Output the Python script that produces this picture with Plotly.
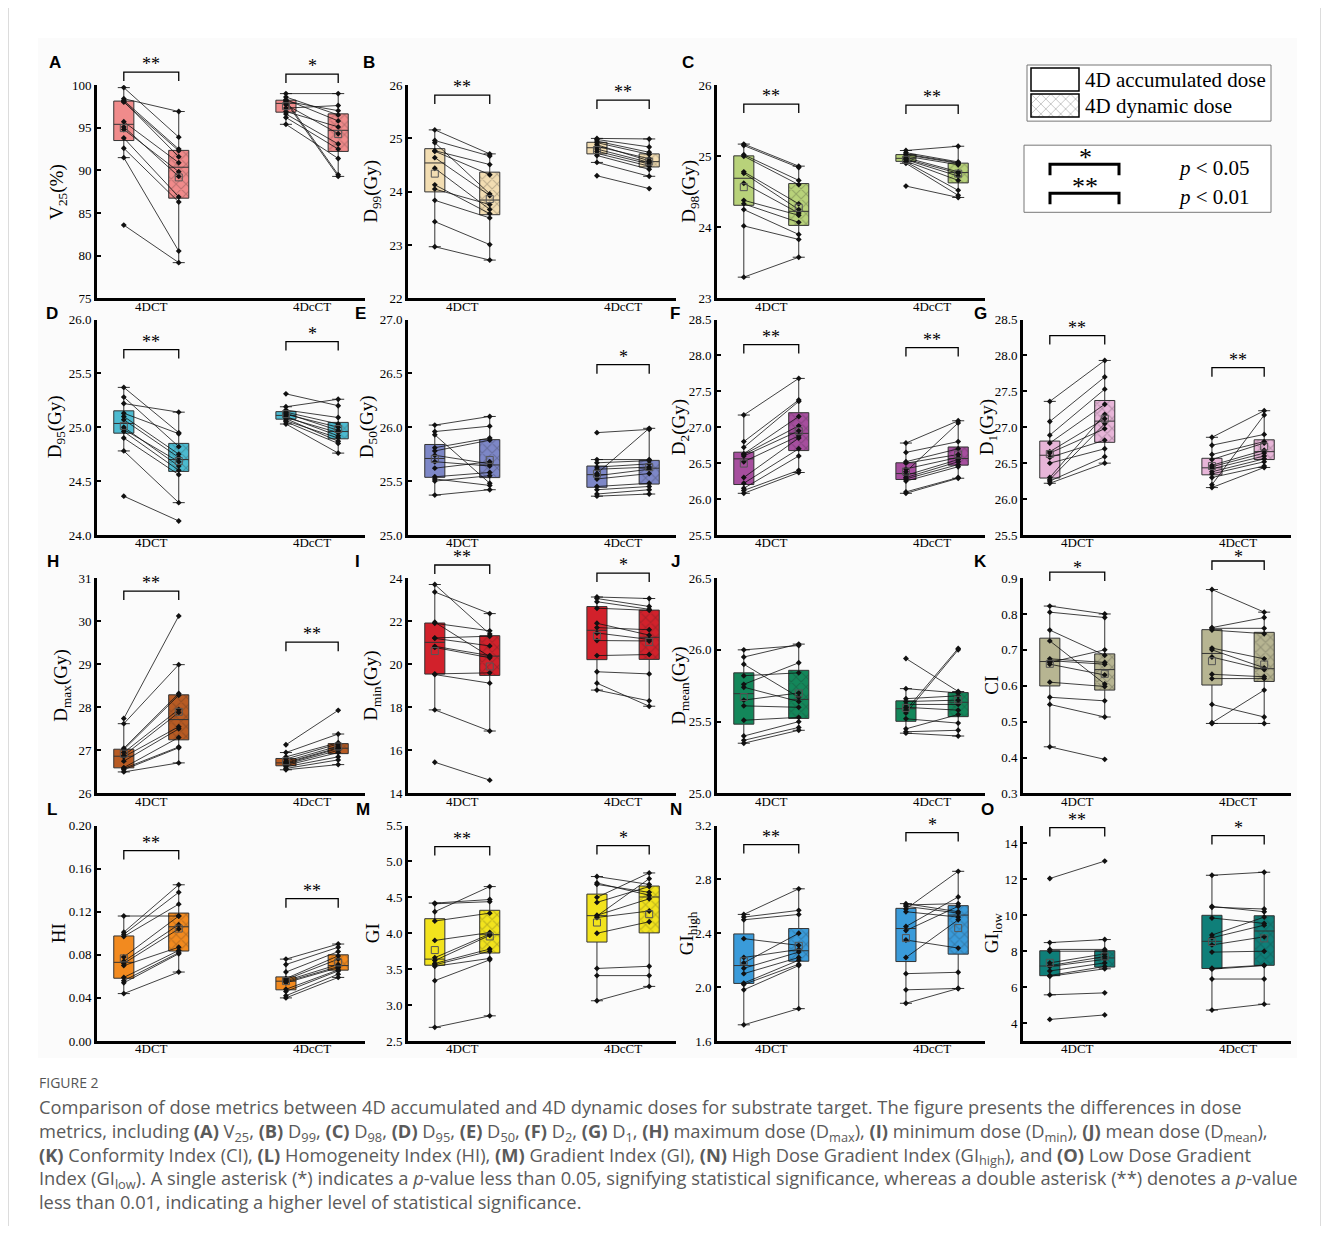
import numpy as np
import plotly.graph_objects as go

W, H = 1329, 1234          # page size
MARGIN = 8                 # default body margin of the html page
FW, FH = W - 2 * MARGIN, H - 2 * MARGIN
SY, OY = 0.9857, 9.2       # observed vertical mapping of the rendered page (compensated below)

# ---------------- data ----------------
CATEGORIES = ["4DCT", "4DcCT"]
PANEL_KEYS = ["A", "B", "C", "D", "E", "F", "G", "H", "I", "J", "K", "L", "M", "N", "O"]
Y_TITLES = ["V<sub>25</sub>(%)", "D<sub>99</sub>(Gy)", "D<sub>98</sub>(Gy)", "D<sub>95</sub>(Gy)",
            "D<sub>50</sub>(Gy)", "D<sub>2</sub>(Gy)", "D<sub>1</sub>(Gy)", "D<sub>max</sub>(Gy)",
            "D<sub>min</sub>(Gy)", "D<sub>mean</sub>(Gy)", "CI", "HI", "GI",
            "GI<sub>high</sub>", "GI<sub>low</sub>"]
SIG_4DCT = ["**", "**", "**", "**", "", "**", "**", "**", "**", "", "*", "**", "**", "**", "**"]
SIG_4DcCT = ["*", "**", "**", "*", "*", "**", "**", "**", "*", "", "*", "**", "*", "*", "*"]

V25_4DCT_acc = [99.7, 98.4, 98.2, 98.1, 98.0, 95.7, 95.1, 94.8, 93.8, 92.6, 91.5, 83.6]
V25_4DCT_dyn = [93.9, 96.9, 92.5, 91.6, 92.3, 90.9, 89.3, 89.85, 86.9, 86.3, 80.55, 79.2]
V25_4DcCT_acc = [99.0, 98.6, 98.3, 98.2, 98.1, 98.0, 97.7, 97.3, 96.9, 96.6, 96.2, 95.4]
V25_4DcCT_dyn = [99.0, 96.5, 95.8, 89.5, 97.0, 89.3, 94.3, 97.6, 95.1, 93.1, 92.5, 91.4]

D99_4DCT_acc = [25.16, 24.96, 24.92, 24.77, 24.76, 24.64, 24.44, 24.13, 24.05, 23.84, 23.44, 22.97]
D99_4DCT_dyn = [24.71, 24.67, 23.96, 24.51, 24.32, 23.93, 23.67, 23.59, 23.76, 23.51, 23.01, 22.72]
D99_4DcCT_acc = [25.0, 24.98, 24.95, 24.92, 24.88, 24.85, 24.80, 24.76, 24.72, 24.68, 24.55, 24.30]
D99_4DcCT_dyn = [24.99, 24.84, 24.74, 24.70, 24.58, 24.62, 24.55, 24.52, 24.48, 24.42, 24.29, 24.06]

D98_4DCT_acc = [25.17, 25.15, 25.02, 25.0, 24.78, 24.76, 24.62, 24.38, 24.33, 24.25, 24.02, 23.30]
D98_4DCT_dyn = [24.86, 24.84, 24.66, 24.60, 24.33, 24.25, 24.20, 24.17, 24.07, 23.90, 23.83, 23.58]
D98_4DcCT_acc = [25.08, 25.05, 25.03, 25.02, 25.0, 24.98, 24.96, 24.95, 24.93, 24.92, 24.90, 24.58]
D98_4DcCT_dyn = [25.14, 24.92, 24.91, 24.90, 24.88, 24.78, 24.76, 24.72, 24.66, 24.52, 24.45, 24.42]

D95_4DCT_acc = [25.37, 25.28, 25.22, 25.13, 25.10, 25.07, 25.0, 24.98, 24.96, 24.90, 24.78, 24.36]
D95_4DCT_dyn = [24.95, 24.82, 25.14, 24.94, 24.75, 24.72, 24.64, 24.68, 24.60, 24.56, 24.30, 24.13]
D95_4DcCT_acc = [25.31, 25.19, 25.16, 25.14, 25.13, 25.12, 25.10, 25.09, 25.08, 25.06, 25.05, 25.03]
D95_4DcCT_dyn = [25.20, 25.26, 25.09, 25.03, 24.97, 25.0, 24.92, 24.95, 24.87, 24.90, 24.85, 24.76]

D50_4DCT_acc = [26.02, 25.96, 25.93, 25.81, 25.78, 25.74, 25.68, 25.62, 25.54, 25.52, 25.50, 25.37]
D50_4DCT_dyn = [26.10, 26.01, 25.48, 25.90, 25.88, 25.66, 25.64, 25.68, 25.58, 25.46, 25.55, 25.42]
D50_4DcCT_acc = [25.95, 25.70, 25.67, 25.63, 25.61, 25.57, 25.55, 25.52, 25.45, 25.42, 25.38, 25.36]
D50_4DcCT_dyn = [25.98, 25.70, 25.69, 25.66, 25.63, 25.99, 25.61, 25.57, 25.48, 25.45, 25.42, 25.38]

D2_4DCT_acc = [27.17, 26.80, 26.72, 26.63, 26.62, 26.60, 26.52, 26.30, 26.22, 26.15, 26.12, 26.08]
D2_4DCT_dyn = [27.68, 27.38, 27.36, 27.15, 27.02, 26.95, 26.88, 26.85, 26.70, 26.60, 26.40, 26.37]
D2_4DcCT_acc = [26.78, 26.65, 26.52, 26.50, 26.42, 26.38, 26.33, 26.30, 26.28, 26.25, 26.10, 26.08]
D2_4DcCT_dyn = [27.09, 26.80, 26.70, 26.62, 26.58, 27.06, 26.55, 26.52, 26.48, 26.45, 26.30, 26.29]

D1_4DCT_acc = [27.36, 27.08, 26.89, 26.78, 26.66, 26.64, 26.58, 26.50, 26.30, 26.27, 26.25, 26.22]
D1_4DCT_dyn = [27.93, 27.70, 27.53, 27.32, 27.12, 26.98, 26.82, 26.70, 27.18, 27.05, 26.59, 26.50]
D1_4DcCT_acc = [26.86, 26.75, 26.62, 26.55, 26.47, 26.45, 26.42, 26.38, 26.35, 26.30, 26.20, 26.16]
D1_4DcCT_dyn = [27.23, 26.90, 26.80, 26.78, 26.68, 26.64, 26.60, 26.56, 26.52, 26.46, 27.17, 26.44]

Dmax_4DCT_acc = [27.74, 27.62, 27.05, 27.02, 26.95, 26.88, 26.85, 26.75, 26.60, 26.58, 26.55, 26.50]
Dmax_4DCT_dyn = [30.12, 28.99, 28.32, 28.28, 27.95, 27.88, 27.55, 27.50, 27.30, 27.08, 27.06, 26.71]
Dmax_4DcCT_acc = [27.13, 26.95, 26.85, 26.80, 26.75, 26.72, 26.70, 26.68, 26.65, 26.62, 26.58, 26.55]
Dmax_4DcCT_dyn = [27.93, 27.38, 27.18, 27.15, 27.10, 27.06, 27.04, 27.00, 26.95, 26.85, 26.78, 26.67]

Dmin_4DCT_acc = [23.70, 23.35, 21.95, 21.90, 21.22, 21.20, 20.83, 20.78, 19.55, 19.52, 17.88, 15.45]
Dmin_4DCT_dyn = [21.40, 22.35, 20.35, 21.55, 21.30, 20.85, 20.40, 20.30, 19.60, 19.12, 16.90, 14.62]
Dmin_4DcCT_acc = [23.12, 23.05, 22.90, 22.60, 21.90, 21.70, 21.45, 21.10, 20.40, 19.65, 19.12, 18.80]
Dmin_4DcCT_dyn = [23.05, 22.68, 22.55, 22.50, 21.35, 21.60, 21.15, 21.08, 20.45, 19.55, 18.05, 18.30]

Dmean_4DCT_acc = [26.0, 25.95, 25.90, 25.82, 25.76, 25.74, 25.65, 25.61, 25.51, 25.40, 25.37, 25.35]
Dmean_4DCT_dyn = [26.03, 26.04, 25.67, 25.84, 25.91, 25.64, 25.70, 25.60, 25.53, 25.50, 25.46, 25.44]
Dmean_4DcCT_acc = [25.94, 25.73, 25.66, 25.64, 25.62, 25.60, 25.58, 25.56, 25.52, 25.45, 25.43, 25.42]
Dmean_4DcCT_dyn = [25.71, 25.70, 25.68, 25.65, 25.62, 25.58, 26.01, 26.00, 25.49, 25.55, 25.44, 25.40]

CI_4DCT_acc = [0.822, 0.805, 0.755, 0.725, 0.675, 0.670, 0.665, 0.660, 0.610, 0.568, 0.548, 0.430]
CI_4DCT_dyn = [0.800, 0.790, 0.685, 0.605, 0.665, 0.660, 0.700, 0.630, 0.598, 0.558, 0.513, 0.395]
CI_4DcCT_acc = [0.868, 0.762, 0.760, 0.755, 0.705, 0.700, 0.680, 0.632, 0.620, 0.548, 0.497, 0.495]
CI_4DcCT_dyn = [0.805, 0.790, 0.760, 0.745, 0.675, 0.650, 0.645, 0.625, 0.620, 0.513, 0.588, 0.495]

HI_4DCT_acc = [0.116, 0.101, 0.099, 0.097, 0.078, 0.074, 0.072, 0.070, 0.059, 0.056, 0.054, 0.044]
HI_4DCT_dyn = [0.116, 0.145, 0.138, 0.127, 0.116, 0.108, 0.104, 0.087, 0.084, 0.082, 0.081, 0.064]
HI_4DcCT_acc = [0.076, 0.071, 0.064, 0.058, 0.057, 0.056, 0.055, 0.054, 0.048, 0.046, 0.042, 0.040]
HI_4DcCT_dyn = [0.090, 0.087, 0.083, 0.079, 0.076, 0.071, 0.069, 0.068, 0.066, 0.065, 0.062, 0.059]

GI_4DCT_acc = [4.42, 4.41, 4.30, 4.17, 3.90, 3.66, 3.62, 3.58, 3.56, 3.54, 3.34, 2.69]
GI_4DCT_dyn = [4.47, 4.44, 4.65, 4.28, 4.01, 3.99, 3.97, 3.78, 3.75, 3.65, 3.63, 2.85]
GI_4DcCT_acc = [4.79, 4.70, 4.68, 4.50, 4.43, 4.25, 4.24, 4.22, 4.00, 3.51, 3.41, 3.06]
GI_4DcCT_dyn = [4.68, 4.53, 4.57, 4.84, 4.65, 4.48, 4.76, 4.31, 4.16, 3.54, 3.41, 3.26]

GIhigh_4DCT_acc = [2.54, 2.52, 2.50, 2.36, 2.22, 2.18, 2.14, 2.10, 2.03, 2.02, 1.98, 1.72]
GIhigh_4DCT_dyn = [2.73, 2.57, 2.54, 2.31, 2.28, 2.40, 2.26, 2.22, 2.20, 2.17, 2.16, 1.84]
GIhigh_4DcCT_acc = [2.62, 2.61, 2.60, 2.58, 2.56, 2.45, 2.42, 2.35, 2.22, 2.10, 1.98, 1.88]
GIhigh_4DcCT_dyn = [2.56, 2.62, 2.55, 2.86, 2.52, 2.67, 2.60, 2.29, 2.50, 2.11, 1.99, 1.99]

GIlow_4DCT_acc = [12.05, 8.48, 8.10, 8.00, 7.35, 7.20, 7.15, 6.90, 6.65, 6.60, 5.57, 4.20]
GIlow_4DCT_dyn = [13.02, 8.65, 8.10, 8.00, 7.85, 7.70, 7.55, 7.35, 7.15, 7.02, 5.68, 4.45]
GIlow_4DcCT_acc = [12.23, 10.50, 10.45, 9.85, 8.90, 8.75, 8.35, 7.95, 7.05, 7.00, 6.45, 4.72]
GIlow_4DcCT_dyn = [12.40, 10.20, 10.35, 9.55, 9.90, 9.45, 8.80, 8.00, 7.22, 7.20, 6.45, 5.05]

PANEL_DATA = [
    (V25_4DCT_acc, V25_4DCT_dyn, V25_4DcCT_acc, V25_4DcCT_dyn),
    (D99_4DCT_acc, D99_4DCT_dyn, D99_4DcCT_acc, D99_4DcCT_dyn),
    (D98_4DCT_acc, D98_4DCT_dyn, D98_4DcCT_acc, D98_4DcCT_dyn),
    (D95_4DCT_acc, D95_4DCT_dyn, D95_4DcCT_acc, D95_4DcCT_dyn),
    (D50_4DCT_acc, D50_4DCT_dyn, D50_4DcCT_acc, D50_4DcCT_dyn),
    (D2_4DCT_acc, D2_4DCT_dyn, D2_4DcCT_acc, D2_4DcCT_dyn),
    (D1_4DCT_acc, D1_4DCT_dyn, D1_4DcCT_acc, D1_4DcCT_dyn),
    (Dmax_4DCT_acc, Dmax_4DCT_dyn, Dmax_4DcCT_acc, Dmax_4DcCT_dyn),
    (Dmin_4DCT_acc, Dmin_4DCT_dyn, Dmin_4DcCT_acc, Dmin_4DcCT_dyn),
    (Dmean_4DCT_acc, Dmean_4DCT_dyn, Dmean_4DcCT_acc, Dmean_4DcCT_dyn),
    (CI_4DCT_acc, CI_4DCT_dyn, CI_4DcCT_acc, CI_4DcCT_dyn),
    (HI_4DCT_acc, HI_4DCT_dyn, HI_4DcCT_acc, HI_4DcCT_dyn),
    (GI_4DCT_acc, GI_4DCT_dyn, GI_4DcCT_acc, GI_4DcCT_dyn),
    (GIhigh_4DCT_acc, GIhigh_4DCT_dyn, GIhigh_4DcCT_acc, GIhigh_4DcCT_dyn),
    (GIlow_4DCT_acc, GIlow_4DCT_dyn, GIlow_4DcCT_acc, GIlow_4DcCT_dyn),
]

# ---------------- styling / layout config ----------------
COLORS = ["#F08B8B", "#F2DDB2", "#B8D27A", "#4CBAD0", "#7D87C7", "#A64E9E", "#E7B5D8",
          "#B85B23", "#D2212B", "#13875A", "#B7B592", "#F28A1F", "#F2E31D", "#3A9BDA", "#0F7F79"]
Y_RANGES = [(75, 100), (22, 26), (23, 26), (24, 26), (25, 27), (25.5, 28.5), (25.5, 28.5),
            (26, 31), (14, 24), (25, 26.5), (0.3, 0.9), (0, 0.2), (2.5, 5.5), (1.6, 3.2), (3, 15)]
Y_DTICK = [5, 1, 1, 0.5, 0.5, 0.5, 0.5, 1, 2, 0.5, 0.1, 0.04, 0.5, 0.4, 2]
Y_TICK0 = [75, 22, 23, 24, 25, 25.5, 25.5, 26, 14, 25, 0.3, 0, 2.5, 1.6, 4]
Y_FMT = [".0f", ".0f", ".0f", ".1f", ".1f", ".1f", ".1f", ".0f", ".0f", ".1f", ".1f", ".2f", ".1f", ".1f", ".0f"]
GRID = [(0, 0), (0, 1), (0, 2), (1, 0), (1, 1), (1, 2), (1, 3), (2, 0), (2, 1), (2, 2), (2, 3),
        (3, 0), (3, 1), (3, 2), (3, 3)]
COL_X = [97, 408, 717, 1023]
PW = 268
ROW_Y = [(87, 300), (321, 536), (579, 794), (826, 1041)]
LETTER_POS = [(55, 64), (369, 64), (688, 64), (52, 315), (360, 315), (675, 315), (981, 315),
              (53, 562), (357, 562), (675, 562), (980, 562), (52, 810), (363, 810), (676, 810), (987, 810)]
TITLE_X = [58, 372, 690, 56, 368, 680, 988, 62, 372, 680, 992, 58, 372, 688, 993]
BRACKET_Y = [(74, 76), (97, 102), (106, 107), (351, 343), (None, 366), (346, 349), (337, 369),
             (592, 643), (566, 574), (None, None), (573, 562), (851, 899), (847, 846), (845, 833), (828, 836)]
STAR_GAP = [8, 8, 8, 8, 8, 8, 8, 8, 8, 8, 4, 8, 8, 8, 8]
POS = [1.0, 3.05, 7.05, 9.0]   # box positions on a 0..10 x-scale
XR = (0, 10)
BOXW = 0.75
SERIF = "Liberation Serif, Times New Roman, serif"


def px(x):
    return (x - MARGIN) / FW


def py(y):
    yy = (y - OY) / SY
    return 1 - (yy - MARGIN) / FH


def box_stats(v):
    v = np.asarray(v, float)
    q1, med, q3 = np.percentile(v, [25, 50, 75])
    iqr = q3 - q1
    lo = v[v >= q1 - 1.5 * iqr].min()
    hi = v[v <= q3 + 1.5 * iqr].max()
    return q1, med, q3, lo, hi, v.mean()


fig = go.Figure()
layout = {}
shapes = []
annotations = []

# background of the figure image and outer card border
shapes.append(dict(type="rect", xref="paper", yref="paper", x0=px(38), x1=px(1297), y0=py(1058), y1=py(40),
                   fillcolor="#fbfbfb", line=dict(width=0), layer="below"))
shapes.append(dict(type="rect", xref="paper", yref="paper", x0=px(8.5), x1=px(1320.5), y0=py(1260), y1=py(8.5),
                   fillcolor="rgba(0,0,0,0)", line=dict(color="#dcdcdc", width=1), layer="below"))

for i, (key, ytitle, data, color) in enumerate(zip(PANEL_KEYS, Y_TITLES, PANEL_DATA, COLORS), start=1):
    idx = i - 1
    r, c = GRID[idx]
    x0 = COL_X[c]
    top, bot = ROW_Y[r]
    xa = "x" if i == 1 else f"x{i}"
    ya = "y" if i == 1 else f"y{i}"
    xname = "xaxis" if i == 1 else f"xaxis{i}"
    yname = "yaxis" if i == 1 else f"yaxis{i}"

    stats = [box_stats(d) for d in data]
    q1 = [s[0] for s in stats]
    med = [s[1] for s in stats]
    q3 = [s[2] for s in stats]
    lo = [s[3] for s in stats]
    hi = [s[4] for s in stats]
    mean = [s[5] for s in stats]

    # filled box bodies (plain for accumulated, cross-hatched for dynamic)
    fig.add_trace(go.Bar(x=[POS[0], POS[2]], y=[q3[0] - q1[0], q3[2] - q1[2]], base=[q1[0], q1[2]],
                         width=BOXW, marker=dict(color=color, line=dict(width=0)),
                         xaxis=xa, yaxis=ya, showlegend=False, hoverinfo="skip"))
    fig.add_trace(go.Bar(x=[POS[1], POS[3]], y=[q3[1] - q1[1], q3[3] - q1[3]], base=[q1[1], q1[3]],
                         width=BOXW,
                         marker=dict(color=color, line=dict(width=0),
                                     pattern=dict(shape="x", fgcolor="rgba(30,30,30,0.5)", size=7,
                                                  solidity=0.28)),
                         xaxis=xa, yaxis=ya, showlegend=False, hoverinfo="skip"))
    # box outlines, medians and whiskers
    fig.add_trace(go.Box(x=POS, q1=q1, median=med, q3=q3, lowerfence=lo, upperfence=hi,
                         width=BOXW, whiskerwidth=0.6, boxpoints=False,
                         fillcolor="rgba(0,0,0,0)", line=dict(color="#333333", width=1),
                         xaxis=xa, yaxis=ya, showlegend=False, hoverinfo="skip"))
    # paired lines
    lx, ly = [], []
    for g in range(2):
        a, b = data[2 * g], data[2 * g + 1]
        for va, vb in zip(a, b):
            lx += [POS[2 * g], POS[2 * g + 1], None]
            ly += [va, vb, None]
    fig.add_trace(go.Scatter(x=lx, y=ly, mode="lines", line=dict(color="#111111", width=0.8),
                             xaxis=xa, yaxis=ya, showlegend=False, hoverinfo="skip"))
    # points
    ptx, pty = [], []
    for k in range(4):
        ptx += [POS[k]] * len(data[k])
        pty += list(data[k])
    fig.add_trace(go.Scatter(x=ptx, y=pty, mode="markers",
                             marker=dict(symbol="diamond", size=4.5, color="#111111"),
                             xaxis=xa, yaxis=ya, showlegend=False, hoverinfo="skip"))
    # means
    fig.add_trace(go.Scatter(x=POS, y=mean, mode="markers",
                             marker=dict(symbol="square-open", size=7, color="#555555", line=dict(width=1)),
                             xaxis=xa, yaxis=ya, showlegend=False, hoverinfo="skip"))

    y_lo, y_hi = Y_RANGES[idx]
    tvals = list(np.arange(Y_TICK0[idx], y_hi + 1e-9, Y_DTICK[idx]))
    ttext = [format(v, Y_FMT[idx]) for v in tvals]

    layout[xname] = dict(domain=[px(x0), px(x0 + PW)], range=list(XR), anchor=ya,
                         showline=True, linecolor="black", linewidth=2.6, ticks="",
                         tickvals=[(POS[0] + POS[1]) / 2, (POS[2] + POS[3]) / 2], ticktext=CATEGORIES,
                         tickfont=dict(family=SERIF, size=13, color="black"),
                         showgrid=False, zeroline=False, fixedrange=True, ticklabelstandoff=-6)
    layout[yname] = dict(domain=[py(bot), py(top)], range=[y_lo, y_hi], anchor=xa,
                         showline=True, linecolor="black", linewidth=2.6,
                         ticks="inside", ticklen=4, tickwidth=1.5, tickcolor="black",
                         tickvals=tvals, ticktext=ttext,
                         tickfont=dict(family=SERIF, size=13, color="black"),
                         showgrid=False, zeroline=False, fixedrange=True)

    # y title
    annotations.append(dict(x=px(TITLE_X[idx]), y=py((top + bot) / 2), xref="paper", yref="paper",
                            text=ytitle, textangle=-90, showarrow=False,
                            font=dict(family=SERIF, size=19, color="black"),
                            xanchor="center", yanchor="middle"))
    # panel letter
    lx_, ly_ = LETTER_POS[idx]
    annotations.append(dict(x=px(lx_), y=py(ly_), xref="paper", yref="paper", text=f"<b>{key}</b>",
                            showarrow=False, font=dict(family="Liberation Sans, Arial, sans-serif", size=17,
                                                       color="black"),
                            xanchor="center", yanchor="middle"))
    # significance brackets
    for g, sig in enumerate([SIG_4DCT[idx], SIG_4DcCT[idx]]):
        by = BRACKET_Y[idx][g]
        if not sig or by is None:
            continue
        xa_px = x0 + (POS[2 * g] - XR[0]) / (XR[1] - XR[0]) * PW
        xb_px = x0 + (POS[2 * g + 1] - XR[0]) / (XR[1] - XR[0]) * PW
        path = (f"M {px(xa_px)},{py(by + 9)} L {px(xa_px)},{py(by)} "
                f"L {px(xb_px)},{py(by)} L {px(xb_px)},{py(by + 9)}")
        shapes.append(dict(type="path", xref="paper", yref="paper", path=path,
                           line=dict(color="black", width=1.3)))
        annotations.append(dict(x=px((xa_px + xb_px) / 2), y=py(by - STAR_GAP[idx]), xref="paper",
                                yref="paper", text=sig, showarrow=False,
                                font=dict(family=SERIF, size=18, color="black"),
                                xanchor="center", yanchor="middle"))

# ---------------- legend (top right) ----------------
shapes.append(dict(type="rect", xref="paper", yref="paper", x0=px(1027), x1=px(1271), y0=py(123), y1=py(67),
                   line=dict(color="#777777", width=1), fillcolor="white", layer="below"))
shapes.append(dict(type="rect", xref="paper", yref="paper", x0=px(1031), x1=px(1079), y0=py(93), y1=py(70),
                   line=dict(color="black", width=1.5), fillcolor="white"))
# hatched swatch drawn as a pattern bar on a tiny hidden axis
fig.add_trace(go.Bar(x=[0.5], y=[1], width=1, base=0,
                     marker=dict(color="white", line=dict(width=0),
                                 pattern=dict(shape="x", fgcolor="#8a8a8a", size=7, solidity=0.25)),
                     xaxis="x16", yaxis="y16", showlegend=False, hoverinfo="skip"))
layout["xaxis16"] = dict(domain=[px(1031), px(1079)], range=[0, 1], visible=False, anchor="y16", fixedrange=True)
layout["yaxis16"] = dict(domain=[py(119), py(96)], range=[0, 1], visible=False, anchor="x16", fixedrange=True)
shapes.append(dict(type="rect", xref="paper", yref="paper", x0=px(1031), x1=px(1079), y0=py(119), y1=py(96),
                   line=dict(color="black", width=1.5), fillcolor="rgba(0,0,0,0)"))
annotations.append(dict(x=px(1083), y=py(82), xref="paper", yref="paper", text="4D accumulated dose",
                        showarrow=False, font=dict(family=SERIF, size=21, color="black"),
                        xanchor="left", yanchor="middle"))
annotations.append(dict(x=px(1083), y=py(108), xref="paper", yref="paper", text="4D dynamic dose",
                        showarrow=False, font=dict(family=SERIF, size=21, color="black"),
                        xanchor="left", yanchor="middle"))

shapes.append(dict(type="rect", xref="paper", yref="paper", x0=px(1024), x1=px(1271), y0=py(214), y1=py(147),
                   line=dict(color="#777777", width=1), fillcolor="white", layer="below"))
for by, sig, ptxt in [(166, "*", "<i>p</i> < 0.05"), (195, "**", "<i>p</i> < 0.01")]:
    path = (f"M {px(1050)},{py(by + 11)} L {px(1050)},{py(by)} L {px(1119)},{py(by)} L {px(1119)},{py(by + 11)}")
    shapes.append(dict(type="path", xref="paper", yref="paper", path=path, line=dict(color="black", width=3)))
    annotations.append(dict(x=px(1085), y=py(by - 7), xref="paper", yref="paper", text=sig, showarrow=False,
                            font=dict(family=SERIF, size=26, color="black"), xanchor="center", yanchor="middle"))
    annotations.append(dict(x=px(1176), y=py(by + 4), xref="paper", yref="paper", text=ptxt, showarrow=False,
                            font=dict(family=SERIF, size=21, color="black"), xanchor="left", yanchor="middle"))

# ---------------- caption ----------------
CAP = "Open Sans, Noto Sans, sans-serif"
annotations.append(dict(x=px(37), y=py(1082), xref="paper", yref="paper", text="FIGURE 2", showarrow=False,
                        font=dict(family=CAP, size=14, color="#555555"), xanchor="left", yanchor="middle"))
caption_lines = [
    "Comparison of dose metrics between 4D accumulated and 4D dynamic doses for substrate target. The figure presents the differences in dose",
    "metrics, including <b>(A)</b> V<sub>25</sub>, <b>(B)</b> D<sub>99</sub>, <b>(C)</b> D<sub>98</sub>, <b>(D)</b> D<sub>95</sub>, <b>(E)</b> D<sub>50</sub>, <b>(F)</b> D<sub>2</sub>, <b>(G)</b> D<sub>1</sub>, <b>(H)</b> maximum dose (D<sub>max</sub>), <b>(I)</b> minimum dose (D<sub>min</sub>), <b>(J)</b> mean dose (D<sub>mean</sub>),",
    "<b>(K)</b> Conformity Index (CI), <b>(L)</b> Homogeneity Index (HI), <b>(M)</b> Gradient Index (GI), <b>(N)</b> High Dose Gradient Index (GI<sub>high</sub>), and <b>(O)</b> Low Dose Gradient",
    "Index (GI<sub>low</sub>). A single asterisk (*) indicates a <i>p</i>-value less than 0.05, signifying statistical significance, whereas a double asterisk (**) denotes a <i>p</i>-value",
    "less than 0.01, indicating a higher level of statistical significance.",
]
annotations.append(dict(x=px(37), y=py(1106 + 24 * 2), xref="paper", yref="paper",
                        text="<br>".join(caption_lines), align="left",
                        showarrow=False, font=dict(family=CAP, size=18.3, color="#5a5a5a"),
                        xanchor="left", yanchor="middle"))

fig.update_layout(width=FW, height=FH, margin=dict(l=0, r=0, t=0, b=0),
                  paper_bgcolor="white", plot_bgcolor="rgba(0,0,0,0)",
                  barmode="overlay", boxmode="overlay", showlegend=False,
                  shapes=shapes, annotations=annotations, **layout)

fig.write_html("out.html", config={"displayModeBar": False})
